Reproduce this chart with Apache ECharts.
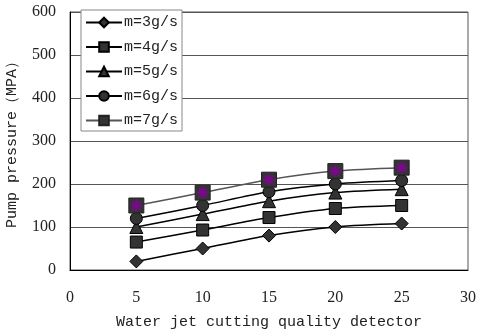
<!DOCTYPE html>
<html>
<head>
<meta charset="utf-8">
<script src="https://cdn.jsdelivr.net/npm/echarts@6/dist/echarts.min.js"></script>
<style>
  html, body { margin: 0; padding: 0; background: #fff; }
  #main { width: 480px; height: 334px; }
</style>
</head>
<body>
<div id="main"></div>
<script>
var xValues = [5, 10, 15, 20, 25];
var m3 = [20, 50, 80, 100, 108];
var m4 = [65, 93, 122, 143, 150];
var m5 = [100, 130, 160, 180, 188];
var m6 = [120, 150, 182, 200, 208];
var m7 = [150, 180, 210, 230, 238];
var seriesNames = ['m=3g/s', 'm=4g/s', 'm=5g/s', 'm=6g/s', 'm=7g/s'];

var monoFont = '"Liberation Mono", "DejaVu Sans Mono", monospace';
var serifFont = '"Liberation Serif", "DejaVu Serif", serif';

// 星号图标（紫色）
var starPath = 'path://M5,0 L5,10 M0,5 L10,5 M1.5,1.5 L8.5,8.5 M8.5,1.5 L1.5,8.5';

function pairs(arr) {
  return xValues.map(function (x, i) { return [x, arr[i]]; });
}

function lineSeries(name, data, symbol, size) {
  return {
    name: name,
    type: 'line',
    data: pairs(data),
    smooth: 0.3,
    symbol: symbol,
    symbolSize: size,
    lineStyle: { color: '#000', width: 1.5 },
    itemStyle: { color: '#333', borderColor: '#000', borderWidth: 1 },
    z: 3
  };
}

var chart = echarts.init(document.getElementById('main'));
chart.setOption({
  animation: false,
  backgroundColor: '#fff',
  grid: {
    left: 70, right: 12, top: 12, bottom: 64,
    containLabel: false, outerBoundsMode: 'none',
    show: true, borderColor: '#555', borderWidth: 1
  },
  legend: {
    data: seriesNames,
    orient: 'vertical',
    left: 81, top: 10,
    padding: [5, 4, 3, 4],
    itemWidth: 36, itemHeight: 12, itemGap: 9.5,
    backgroundColor: '#fff',
    borderColor: '#888', borderWidth: 1,
    textStyle: { fontFamily: monoFont, fontSize: 15, color: '#222', padding: [0, 0, 0, -3] }
  },
  xAxis: {
    type: 'value',
    min: 0, max: 30, interval: 5,
    axisLine: { lineStyle: { color: '#000' } },
    axisTick: { show: false },
    splitLine: { show: false },
    axisLabel: { margin: 20, fontFamily: serifFont, fontSize: 16, color: '#222' },
    name: 'Water jet cutting quality detector',
    nameLocation: 'middle',
    nameGap: 45,
    nameTextStyle: { fontFamily: monoFont, fontSize: 15, color: '#222' }
  },
  yAxis: {
    type: 'value',
    min: 0, max: 600, interval: 100,
    axisLine: { show: true, lineStyle: { color: '#000' } },
    axisTick: { show: false },
    splitLine: { lineStyle: { color: '#555', width: 1 } },
    axisLabel: { margin: 14, fontFamily: serifFont, fontSize: 16, color: '#222' },
    name: 'Pump pressure（MPA）',
    nameLocation: 'middle',
    nameGap: 50,
    nameTextStyle: { fontFamily: monoFont, fontSize: 15, color: '#222' }
  },
  series: [
    lineSeries(seriesNames[0], m3, 'diamond', 13),
    lineSeries(seriesNames[1], m4, 'rect', 12),
    lineSeries(seriesNames[2], m5, 'triangle', 13),
    lineSeries(seriesNames[3], m6, 'circle', 12),
    {
      name: seriesNames[4],
      type: 'line',
      data: pairs(m7),
      smooth: 0.3,
      symbol: 'rect',
      symbolSize: 15,
      lineStyle: { color: '#555', width: 1.5 },
      itemStyle: { color: '#333', borderColor: '#222', borderWidth: 1 },
      z: 3
    },
    {
      name: 'star',
      type: 'scatter',
      data: pairs(m7),
      symbol: starPath,
      symbolSize: 12,
      itemStyle: { color: 'none', borderColor: '#8a00a0', borderWidth: 2 },
      z: 4
    }
  ]
});
</script>
</body>
</html>
